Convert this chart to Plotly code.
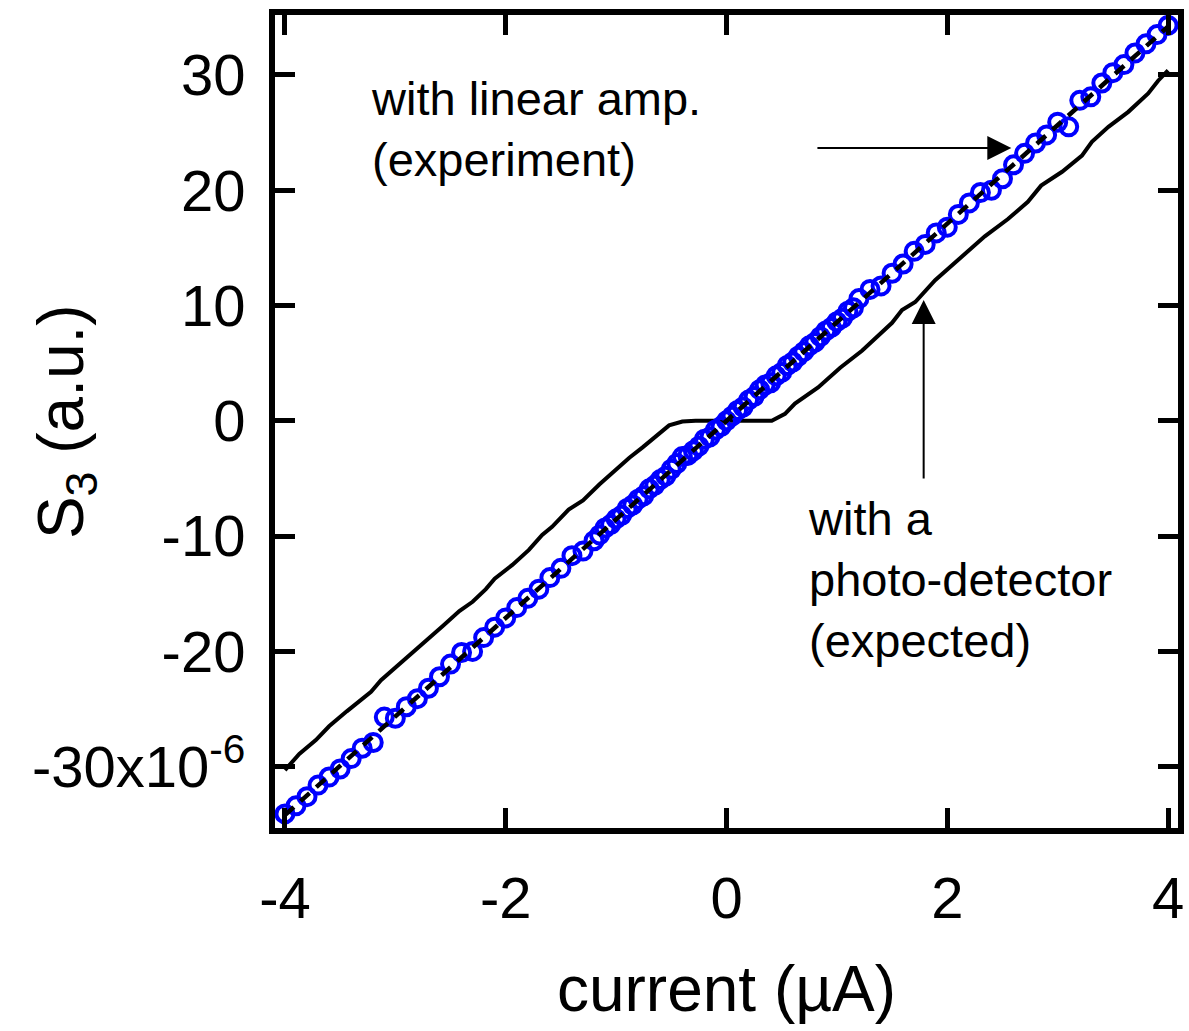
import plotly.graph_objects as go

# Experiment (with linear amp.) - open circles
exp_x = [-4.0, -3.9, -3.8, -3.7, -3.6, -3.5, -3.4, -3.3, -3.2, -3.1, -3.0, -2.9, -2.8, -2.7,
         -2.6, -2.5, -2.4, -2.3, -2.2, -2.1, -2.0, -1.9, -1.8, -1.7, -1.6, -1.5, -1.4, -1.3, -1.2,
         -1.15, -1.1, -1.05, -1.0, -0.95, -0.9, -0.85, -0.8, -0.75, -0.7, -0.65, -0.6, -0.55,
         -0.5, -0.45, -0.4, -0.35, -0.3, -0.25, -0.2, -0.15, -0.1, -0.05, 0.0, 0.05, 0.1, 0.15,
         0.2, 0.25, 0.3, 0.35, 0.4, 0.45, 0.5, 0.55, 0.6, 0.65, 0.7, 0.75, 0.8, 0.85, 0.9, 0.95,
         1.0, 1.05, 1.1, 1.15, 1.2, 1.3, 1.4, 1.5, 1.6, 1.7, 1.8, 1.9, 2.0, 2.1, 2.2, 2.3, 2.4,
         2.5, 2.6, 2.7, 2.8, 2.9, 3.0, 3.1, 3.2, 3.3, 3.4, 3.5, 3.6, 3.7, 3.8, 3.9, 4.0]
exp_y = [-34.1, -33.4, -32.6, -31.6, -30.9, -30.2, -29.3, -28.4, -27.9, -25.7, -25.8, -24.8,
         -24.1, -23.2, -22.2, -21.1, -20.1, -20.0, -18.8, -17.9, -17.1, -16.2, -15.4, -14.6,
         -13.6, -12.8, -11.7, -11.3, -10.4,
         -9.9, -9.3, -9.0, -8.5, -8.2, -7.6, -7.3, -6.8, -6.5, -5.9, -5.6, -5.1, -4.8,
         -4.2, -3.7, -3.1, -3.0, -2.6, -2.2, -1.6, -1.4, -0.8, -0.5, 0.0, 0.4, 0.9, 1.2,
         1.8, 2.1, 2.7, 3.1, 3.3, 3.9, 4.2, 4.8, 5.1, 5.6, 6.0, 6.5, 6.8, 7.3, 7.8, 8.1,
         8.6, 8.9, 9.5, 9.8, 10.6, 11.4, 11.7, 12.8, 13.6, 14.7, 15.3, 16.3, 16.8, 17.9,
         18.9, 19.8, 20.0, 21.0, 22.2, 23.2, 24.1, 24.8, 25.9, 25.5, 27.8, 28.1, 29.3, 30.2,
         30.9, 31.9, 32.7, 33.5, 34.3]

# Linear fit (dashed)
fit_x = [-4.0, 4.0]
fit_y = [-34.2, 34.2]

# Expected with a photo-detector (solid)
pd_x = [-4.0, -3.87, -3.72, -3.6, -3.44, -3.22, -3.13, -2.96, -2.84, -2.69, -2.57, -2.42,
        -2.3, -2.18, -2.1, -1.94, -1.79, -1.67, -1.58, -1.43, -1.3, -1.15, -1.06, -0.88,
        -0.76, -0.64, -0.52, -0.4, -0.28, 0.0, 0.26, 0.41, 0.53, 0.62, 0.83, 1.03, 1.23,
        1.32, 1.5, 1.59, 1.71, 1.89, 2.07, 2.22, 2.34, 2.55, 2.73, 2.85, 3.04, 3.22, 3.31,
        3.46, 3.64, 3.82, 3.91, 4.0]
pd_y = [-30.3, -28.9, -27.7, -26.5, -25.2, -23.5, -22.5, -21.1, -20.0, -18.8, -17.8, -16.5,
        -15.7, -14.6, -13.7, -12.5, -11.2, -9.9, -9.2, -7.7, -6.9, -5.5, -4.7, -3.2,
        -2.3, -1.3, -0.4, -0.06, 0.0, 0.0, 0.0, 0.0, 0.6, 1.5, 2.9, 4.6, 6.1,
        6.9, 8.5, 9.6, 10.3, 12.2, 13.7, 14.9, 16.0, 17.5, 19.0, 20.4, 21.6, 23.0, 24.2,
        25.5, 26.8, 28.4, 29.5, 30.4]

y_tickvals = [-30, -20, -10, 0, 10, 20, 30]
y_ticktext = ["-30x10<sup>-6</sup>", "-20", "-10", "0", "10", "20", "30"]
x_tickvals = [-4, -2, 0, 2, 4]
x_ticktext = ["-4", "-2", "0", "2", "4"]

FONT = "Liberation Sans, Arial, Helvetica, sans-serif"

fig = go.Figure()
fig.add_trace(go.Scatter(x=pd_x, y=pd_y, mode="lines",
                         line=dict(color="black", width=4), showlegend=False))
fig.add_trace(go.Scatter(x=exp_x, y=exp_y, mode="markers",
                         marker=dict(symbol="circle-open", size=17, color="#0000ff",
                                     line=dict(width=4, color="#0000ff")),
                         showlegend=False))
fig.add_trace(go.Scatter(x=fit_x, y=fit_y, mode="lines",
                         line=dict(color="black", width=4.5, dash="12px,9px"), showlegend=False))

axis_common = dict(showgrid=False, zeroline=False, showline=True, linecolor="black",
                   linewidth=6, mirror="allticks", ticks="inside", ticklen=20, tickwidth=5,
                   tickcolor="black", tickfont=dict(family=FONT, size=58, color="black"))

fig.update_xaxes(range=[-4.09, 4.09], tickvals=x_tickvals, ticktext=x_ticktext,
                 title=dict(text="current (µA)", font=dict(family=FONT, size=64, color="black"),
                            standoff=40),
                 ticklabelstandoff=14, **axis_common)
fig.update_yaxes(range=[-35.32, 35.2], tickvals=y_tickvals, ticktext=y_ticktext,
                 ticklabelstandoff=12, **axis_common)

annots = [
    dict(xref="paper", yref="paper", x=-0.233, y=0.5, text="S<sub>3</sub> (a.u.)",
         textangle=-90, showarrow=False, xanchor="center", yanchor="middle",
         font=dict(family=FONT, size=64, color="black")),
    dict(x=-3.24, y=25.3, xref="x", yref="y", text="with linear amp.<br>(experiment)",
         showarrow=False, xanchor="left", yanchor="middle", align="left",
         font=dict(family=FONT, size=47, color="black")),
    dict(x=0.72, y=-13.8, xref="x", yref="y",
         text="with a<br>photo-detector<br>(expected)",
         showarrow=False, xanchor="left", yanchor="middle", align="left",
         font=dict(family=FONT, size=47, color="black")),
    dict(x=2.58, y=23.66, ax=0.81, ay=23.66, xref="x", yref="y", axref="x", ayref="y",
         text="", showarrow=True, arrowhead=2, arrowsize=2.4, arrowwidth=2, arrowcolor="black"),
    dict(x=1.786, y=10.48, ax=1.786, ay=-5.13, xref="x", yref="y", axref="x", ayref="y",
         text="", showarrow=True, arrowhead=2, arrowsize=2.4, arrowwidth=2, arrowcolor="black"),
]

fig.update_layout(width=1189, height=1031, margin=dict(l=275, r=5, t=15, b=203),
                  plot_bgcolor="white", paper_bgcolor="white", annotations=annots,
                  hovermode=False,
                  font=dict(family=FONT, color="black"))

fig.write_html("out.html",
               config={"displayModeBar": False, "staticPlot": True},
               post_script="document.body.style.margin='0';"
                           "document.documentElement.style.overflow='hidden';"
                           "document.body.style.overflow='hidden';")
